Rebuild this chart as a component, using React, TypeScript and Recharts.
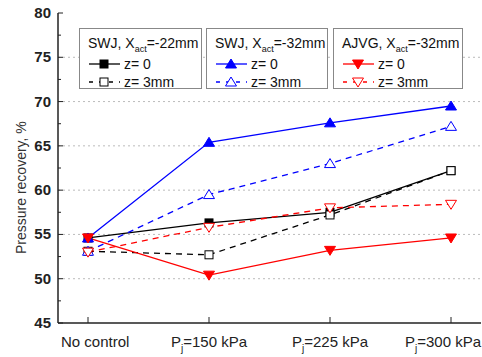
import {
  LineChart,
  Line,
  XAxis,
  YAxis,
  ReferenceLine,
} from "recharts";

const categories = ["No control", "150", "225", "300"];
const swj22Z0 = [54.6, 56.3, 57.5, 62.2];
const swj22Z3 = [53.1, 52.7, 57.2, 62.2];
const swj32Z0 = [54.6, 65.4, 67.6, 69.5];
const swj32Z3 = [53.1, 59.5, 63.0, 67.2];
const ajvgZ0 = [54.6, 50.4, 53.2, 54.6];
const ajvgZ3 = [53.0, 55.8, 58.0, 58.4];
const yTicks = [45, 47.5, 50, 52.5, 55, 57.5, 60, 62.5, 65, 67.5, 70, 72.5, 75, 77.5, 80];
const gridValues = [50, 55, 60, 65, 70, 75];

const chartData = categories.map((cat, i) => ({
  cat,
  swj22Z0: swj22Z0[i],
  swj22Z3: swj22Z3[i],
  swj32Z0: swj32Z0[i],
  swj32Z3: swj32Z3[i],
  ajvgZ0: ajvgZ0[i],
  ajvgZ3: ajvgZ3[i],
}));

const FONT = "Arial, 'Liberation Sans', sans-serif";

// marker shapes
const Square = ({ cx, cy, fill, stroke }: any) => (
  <rect x={cx - 4} y={cy - 4} width={8} height={8} fill={fill} stroke={stroke} strokeWidth={1} />
);
const TriUp = ({ cx, cy, fill, stroke }: any) => (
  <polygon points={`${cx},${cy - 5} ${cx - 5.5},${cy + 4} ${cx + 5.5},${cy + 4}`} fill={fill} stroke={stroke} strokeWidth={1} />
);
const TriDown = ({ cx, cy, fill, stroke }: any) => (
  <polygon points={`${cx},${cy + 5} ${cx - 5.5},${cy - 4} ${cx + 5.5},${cy - 4}`} fill={fill} stroke={stroke} strokeWidth={1} />
);

const mk = (Shape: any, color: string, hollow: boolean) => (props: any) => (
  <Shape key={props.index} cx={props.cx} cy={props.cy} fill={hollow ? "#fff" : color} stroke={color} />
);

const YTick = ({ x, y, payload }: any) => {
  const major = payload.value % 5 === 0;
  return (
    <g>
      <line x1={x} x2={x + (major ? 5 : 3)} y1={y} y2={y} stroke="#222" strokeWidth={1} />
      {major && (
        <text x={x - 7} y={y} dy={5} textAnchor="end" fontFamily={FONT} fontSize={15} fontWeight="bold" fill="#222">
          {payload.value}
        </text>
      )}
    </g>
  );
};

const XTick = ({ x, y, payload, index }: any) => {
  const v = payload.value as string;
  // first label sits right of its tick, last one is pulled in to fit
  const anchor = index === 0 ? "start" : index === 3 ? "end" : "middle";
  const tx = index === 0 ? 61 : index === 3 ? 481 : x;
  return (
    <g>
      <line x1={x} x2={x} y1={y} y2={y - 6} stroke="#222" strokeWidth={1} />
      <text x={tx} y={y + 24} textAnchor={anchor} fontFamily={FONT} fontSize={15} fill="#222">
        {v === "No control" ? (
          v
        ) : (
          <>
            <tspan>P</tspan>
            <tspan dy={5} fontSize={10}>j</tspan>
            <tspan dy={-5}>{`=${v} kPa`}</tspan>
          </>
        )}
      </text>
    </g>
  );
};

const groups = [
  { title: "SWJ, X", rest: "=-22mm", color: "#000", Shape: Square, left: 79, width: 123 },
  { title: "SWJ, X", rest: "=-32mm", color: "#0000ff", Shape: TriUp, left: 206, width: 122 },
  { title: "AJVG, X", rest: "=-32mm", color: "#ff0000", Shape: TriDown, left: 333, width: 130 },
];

const LegendRow = ({ color, Shape, hollow, label }: any) => (
  <div style={{ display: "flex", alignItems: "center", height: 18 }}>
    <svg width={33} height={12} style={{ marginRight: 3 }}>
      <line x1={1} x2={32} y1={6} y2={6} stroke={color} strokeWidth={1.3} strokeDasharray={hollow ? "4 6" : undefined} />
      <Shape cx={16} cy={6} fill={hollow ? "#fff" : color} stroke={color} />
    </svg>
    <span>{label}</span>
  </div>
);

const LegendBoxes = () => (
  <>
    {groups.map((g, i) => (
      <div
        key={i}
        style={{
          position: "absolute",
          left: g.left,
          top: 28,
          width: g.width,
          height: 61,
          boxSizing: "border-box",
          border: "1px solid #888",
          padding: "5px 0 0 8px",
          background: "#fff",
          fontFamily: FONT,
          fontSize: 14,
          color: "#111",
          lineHeight: "18px",
        }}
      >
        <div style={{ height: 21, whiteSpace: "nowrap" }}>
          {g.title}
          <sub style={{ fontSize: 9, lineHeight: 0 }}>act</sub>
          {g.rest}
        </div>
        <LegendRow color={g.color} Shape={g.Shape} hollow={false} label="z= 0" />
        <LegendRow color={g.color} Shape={g.Shape} hollow={true} label="z= 3mm" />
      </div>
    ))}
  </>
);

export default function App() {
  return (
    <div style={{ position: "absolute", left: 0, top: 0, width: 482, height: 357, background: "#fff" }}>
      <LineChart width={482} height={357} data={chartData} margin={{ top: 13, right: 1, left: 0, bottom: 0 }}>
        {gridValues.map((v) => (
          <ReferenceLine key={v} y={v} stroke="#bbb" strokeDasharray="2 3" />
        ))}
        <XAxis
          dataKey="cat"
          padding={{ left: 30, right: 30 }}
          tick={<XTick />}
          tickLine={false}
          tickSize={0}
          tickMargin={0}
          height={34}
          axisLine={{ stroke: "#222", strokeWidth: 1.5 }}
          interval={0}
        />
        <XAxis xAxisId="top" orientation="top" dataKey="cat" tick={false} tickLine={false} height={0} axisLine={{ stroke: "#222", strokeWidth: 1.5 }} />
        <YAxis
          domain={[45, 80]}
          ticks={yTicks}
          interval={0}
          tick={<YTick />}
          tickLine={false}
          tickSize={0}
          tickMargin={0}
          width={58}
          axisLine={{ stroke: "#222", strokeWidth: 1.5 }}
          label={{
            value: "Pressure recovery, %",
            angle: -90,
            position: "insideLeft",
            dx: 16,
            dy: 86,
            style: { fill: "#333", fontFamily: FONT, fontSize: 14 },
          }}
        />
        <YAxis yAxisId="right" orientation="right" domain={[45, 80]} tick={false} tickLine={false} width={0} axisLine={{ stroke: "#222", strokeWidth: 1.5 }} />
        <Line dataKey="swj22Z0" stroke="#000" strokeWidth={1.3} dot={mk(Square, "#000", false)} isAnimationActive={false} />
        <Line dataKey="swj22Z3" stroke="#000" strokeWidth={1.3} strokeDasharray="6 5" dot={mk(Square, "#000", true)} isAnimationActive={false} />
        <Line dataKey="swj32Z0" stroke="#0000ff" strokeWidth={1.3} dot={mk(TriUp, "#0000ff", false)} isAnimationActive={false} />
        <Line dataKey="swj32Z3" stroke="#0000ff" strokeWidth={1.3} strokeDasharray="6 5" dot={mk(TriUp, "#0000ff", true)} isAnimationActive={false} />
        <Line dataKey="ajvgZ3" stroke="#ff0000" strokeWidth={1.3} strokeDasharray="6 5" dot={mk(TriDown, "#ff0000", true)} isAnimationActive={false} />
        <Line dataKey="ajvgZ0" stroke="#ff0000" strokeWidth={1.3} dot={mk(TriDown, "#ff0000", false)} isAnimationActive={false} />
      </LineChart>
      <LegendBoxes />
    </div>
  );
}
